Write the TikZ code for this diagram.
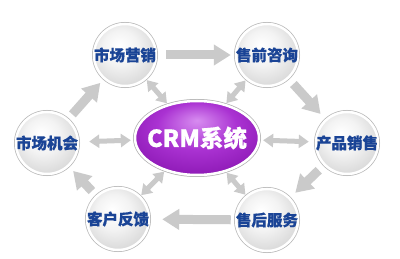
\documentclass[tikz,border=0pt]{standalone}
\usepackage{fontspec}
\newfontfamily\cjk{Noto Sans CJK SC}[BoldFeatures={FakeBold=0.6}]
\usetikzlibrary{arrows.meta,shapes.geometric}
\definecolor{txtblue}{RGB}{26,68,150}
\definecolor{arrowgray}{RGB}{202,202,202}
\definecolor{gA}{RGB}{255,255,255}
\definecolor{gB}{RGB}{243,243,243}
\definecolor{gC}{RGB}{215,215,215}
\definecolor{gD}{RGB}{185,185,185}
\definecolor{pA}{RGB}{215,140,240}
\definecolor{pB}{RGB}{170,50,210}
\definecolor{pC}{RGB}{135,20,175}
\definecolor{pD}{RGB}{100,0,130}
\pgfdeclareradialshading{grayball}{\pgfpoint{-5bp}{8bp}}{color(0bp)=(gA); color(14bp)=(gB); color(30bp)=(gC); color(50bp)=(gD)}
\pgfdeclareradialshading{purpleball}{\pgfpoint{0bp}{12bp}}{color(0bp)=(pA); color(16bp)=(pB); color(34bp)=(pC); color(50bp)=(pD)}
\tikzset{
  ballnode/.style={circle, minimum size=62pt, inner sep=-4pt, shading=grayball,
    draw=white, line width=2.5pt, preaction={draw=black!28, line width=4pt},
    font=\cjk\bfseries\fontsize{15.5}{16}\selectfont, text=txtblue},
  crmnode/.style={ellipse, minimum width=124pt, minimum height=74pt, inner xsep=-14pt, inner ysep=8pt,
    shading=purpleball, draw=white, line width=2.5pt, preaction={draw=black!30, line width=4pt},
    font=\cjk\bfseries\fontsize{23.5}{25}\selectfont, text=white},
  bigarrow/.style={draw=arrowgray, line width=9pt, -{Triangle[length=17pt,width=20pt]}},
  duoarrow/.style={draw=arrowgray, line width=5pt, {Triangle[length=10pt,width=13pt]}-{Triangle[length=10pt,width=13pt]}}
}
\begin{document}
\begin{tikzpicture}[x=1pt,y=-1pt]
\useasboundingbox[fill=white] (0,0) rectangle (400,259);
\node[ballnode] (mkt) at (125,55) {市场营销};
\node[ballnode] (pre) at (267,55) {售前咨询};
\node[ballnode] (opp) at (47,143) {市场机会};
\node[ballnode] (sal) at (347,143) {产品销售};
\node[ballnode] (fb)  at (118,219) {客户反馈};
\node[ballnode] (aft) at (267,220) {售后服务};
\node[crmnode] (crm) at (197,138) {CRM系统};
% outer cycle
\draw[bigarrow, shorten <=9pt, shorten >=4pt] (mkt) -- (pre);
\draw[bigarrow, shorten <=7pt, shorten >=7pt] (pre) -- (sal);
\draw[bigarrow, shorten <=7pt, shorten >=7pt] (sal) -- (aft);
\draw[bigarrow, shorten <=4pt, shorten >=12pt] (aft) -- (fb);
\draw[bigarrow, shorten <=6pt, shorten >=6pt] (fb) -- (opp);
\draw[bigarrow, shorten <=6pt, shorten >=5pt] (opp) -- (mkt);
% links to CRM
\draw[duoarrow, shorten <=10pt, shorten >=3pt] (opp) -- (crm);
\draw[duoarrow, shorten <=6pt, shorten >=3pt] (sal) -- (crm);
\draw[duoarrow, shorten <=1pt, shorten >=1pt] (mkt) -- (crm);
\draw[duoarrow, shorten <=1pt, shorten >=1pt] (pre) -- (crm);
\draw[duoarrow, shorten <=1pt, shorten >=1pt] (fb) -- (crm);
\draw[duoarrow, shorten <=1pt, shorten >=1pt] (aft) -- (crm);
\end{tikzpicture}
\end{document}
